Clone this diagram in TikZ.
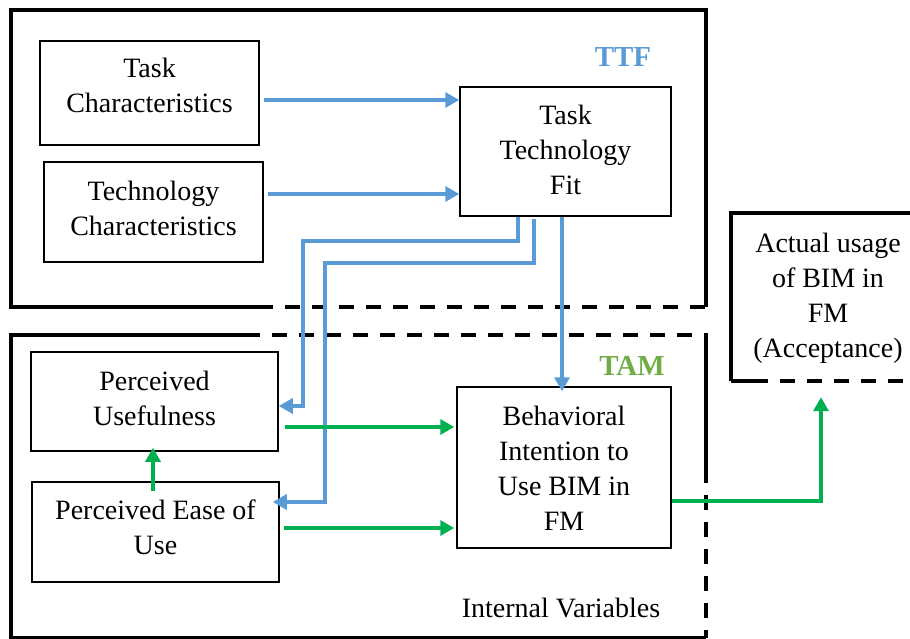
\documentclass[tikz,border=0pt]{standalone}
\usepackage{fontspec}
\setmainfont{Liberation Serif}
\usetikzlibrary{arrows.meta}
\definecolor{ttfblue}{HTML}{5B9BD5}
\definecolor{arrgreen}{HTML}{00B050}
\definecolor{tamgreen}{HTML}{70AD47}
\newcommand\liftlines[2]{\raisebox{#1}[\height][\depth]{\begin{tabular}{@{}c@{}}#2\end{tabular}}}
\begin{document}
\begin{tikzpicture}[x=1pt,y=-1pt,
  box/.style={draw,line width=1.5pt,inner sep=0pt,align=center,font=\fontsize{28}{35}\selectfont},
  plain/.style={inner sep=0pt,align=center,font=\fontsize{28}{35}\selectfont},
  frame/.style={line width=3.5pt,line join=miter},
  dashframe/.style={line width=3.5pt,dash pattern=on 15pt off 12pt},
  bluearr/.style={draw=ttfblue,line width=3.3pt,-{Triangle[length=14pt,width=15pt]}},
  greenarr/.style={draw=arrgreen,line width=3.5pt,-{Triangle[length=14pt,width=15pt]}},
  lbl/.style={inner sep=0pt,font=\fontsize{29}{35}\selectfont\bfseries}]
\useasboundingbox (0,0) rectangle (910,639);

% frames
\draw[frame] (258,307) -- (11,307) -- (11,10) -- (706,10) -- (706,307);
\draw[dashframe] (258,307) -- (706,307);
\draw[frame] (245,335) -- (11,335) -- (11,638) -- (706,638);
\draw[dashframe] (245,335) -- (706,335) -- (706,470) -- (706,638);
\draw[frame] (706,335) -- (706,470);

% nodes
\node[box,minimum width=219pt,minimum height=104pt] (tc) at (149.5,93) {\liftlines{4.5pt}{Task\\Characteristics}};
\node[box,minimum width=219pt,minimum height=100pt] (tech) at (153.5,212) {\liftlines{1.5pt}{Technology\\Characteristics}};
\node[box,minimum width=211pt,minimum height=129pt] (ttf) at (565.5,151.5) {\liftlines{-1pt}{Task\\Technology\\Fit}};
\node[box,minimum width=247pt,minimum height=99pt] (pu) at (154.5,401.5) {\liftlines{1pt}{Perceived\\Usefulness}};
\node[box,minimum width=247pt,minimum height=100pt] (peou) at (155.5,532) {\liftlines{2pt}{Perceived Ease of\\Use}};
\node[box,minimum width=214pt,minimum height=161pt] (bi) at (564,467.5) {\liftlines{-3.5pt}{Behavioral\\Intention to\\Use BIM in\\FM}};
\node[plain,minimum width=194pt,minimum height=168pt] (act) at (828,297) {\liftlines{-1pt}{Actual usage\\of BIM in\\FM\\(Acceptance)}};
\draw[frame] (act.south west) -- (act.north west) -- (act.north east);
\draw[frame] (act.south west) -- ([xshift=22pt]act.south west);
\draw[dashframe] ([xshift=22pt]act.south west) -- (act.south east);

% labels
\node[lbl,text=ttfblue] (ttflbl) at (623,57) {TTF};
\node[lbl,text=tamgreen] (tamlbl) at (632,366) {TAM};
\node[plain] (intvar) at (561,608) {Internal Variables};

% blue connectors
\draw[bluearr] ([xshift=4pt,yshift=-7pt]tc.east) -- ([yshift=-7pt]tc.east -| ttf.west);
\draw[bluearr] ([xshift=4pt,yshift=18pt]tech.east) -- ([yshift=18pt]tech.east -| ttf.west);
\draw[bluearr,line join=miter] ([xshift=-47.5pt]ttf.south) |- (303,241) |- ([yshift=-4.5pt]pu.east);
\draw[bluearr,line join=miter] ([xshift=-31.5pt,yshift=-2pt]ttf.south) |- (325,263) |- ([xshift=-7pt,yshift=30pt]peou.east);
\draw[bluearr] ([xshift=-3.5pt]ttf.south) -- ([xshift=-2pt,yshift=-5pt]bi.north);

% green connectors
\draw[greenarr] ([xshift=-2.5pt,yshift=-10pt]peou.north) -- ([xshift=-1.5pt,yshift=4pt]pu.south);
\draw[greenarr] ([xshift=6pt,yshift=-25.5pt]pu.east) -- ([xshift=-2pt,yshift=40.5pt]bi.west);
\draw[greenarr] ([xshift=4pt,yshift=4pt]peou.east) -- ([xshift=-2pt,yshift=-60.5pt]bi.west);
\draw[greenarr,line join=miter] ([yshift=-33.5pt]bi.east) -| ([xshift=-7pt,yshift=-16pt]act.south);
\end{tikzpicture}
\end{document}
